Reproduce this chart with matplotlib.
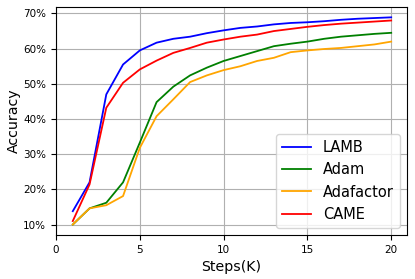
import numpy as np
import matplotlib
matplotlib.use("Agg")
import matplotlib.pyplot as plt
from matplotlib.ticker import FuncFormatter

# ============================================================
# データ (Accuracy [%])
# ============================================================
steps = [1, 2, 3, 4, 5, 6, 7, 8, 9, 10, 11, 12, 13, 14, 15, 16, 17, 18, 19, 20]

lamb = [13.8, 22.0, 47.0, 55.5, 59.5, 61.7, 62.8, 63.4, 64.4, 65.2,
        65.9, 66.3, 66.9, 67.3, 67.5, 67.8, 68.2, 68.5, 68.7, 68.9]
adam = [10.0, 14.6, 16.2, 22.0, 33.3, 44.8, 49.2, 52.4, 54.6, 56.5,
        57.9, 59.3, 60.7, 61.4, 62.0, 62.8, 63.4, 63.8, 64.2, 64.5]
adafactor = [10.0, 14.6, 15.5, 18.1, 31.8, 40.8, 45.6, 50.5, 52.4, 53.9,
             55.0, 56.5, 57.4, 59.0, 59.5, 59.9, 60.2, 60.7, 61.2, 62.0]
came = [11.0, 21.4, 43.2, 50.3, 54.1, 56.6, 58.8, 60.2, 61.7, 62.6,
        63.4, 64.0, 65.0, 65.6, 66.2, 66.7, 67.1, 67.4, 67.7, 68.0]

plt.figure(figsize=(4.15, 2.79), dpi=100)

plt.plot(steps, lamb, color="blue", linewidth=1.3, label="LAMB")
plt.plot(steps, adam, color="green", linewidth=1.3, label="Adam")
plt.plot(steps, adafactor, color="orange", linewidth=1.3, label="Adafactor")
plt.plot(steps, came, color="red", linewidth=1.3, label="CAME")

ax = plt.gca()
ax.set_xticks([0, 5, 10, 15, 20])
ax.set_yticks([10, 20, 30, 40, 50, 60, 70])
ax.yaxis.set_major_formatter(FuncFormatter(lambda v, p: f"{v:.0f}%"))
ax.tick_params(labelsize=7.5)

plt.xlabel("Steps(K)", fontsize=10.2)
plt.ylabel("Accuracy", fontsize=10.2, labelpad=1.5)

plt.grid(color="#b0b0b0", linewidth=0.8)
plt.legend(loc="lower right", fontsize=10.5)
plt.subplots_adjust(left=0.135, right=0.981, top=0.975, bottom=0.158)
plt.savefig("out.png", dpi=100)
